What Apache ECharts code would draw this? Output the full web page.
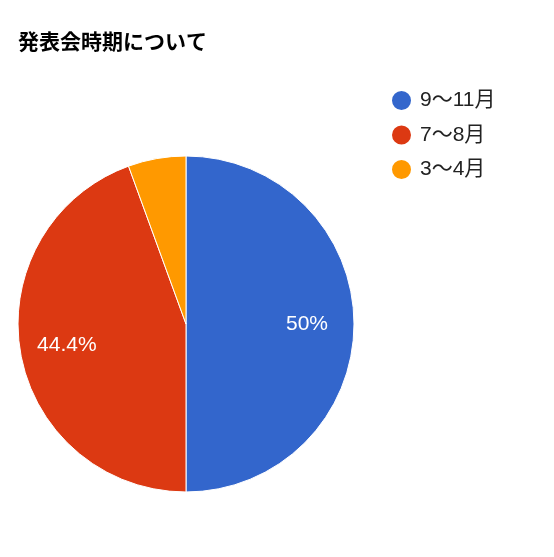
<!DOCTYPE html>
<html><head><meta charset="utf-8">
<script src="https://cdn.jsdelivr.net/npm/echarts@6/dist/echarts.min.js"></script>
<style>html,body{margin:0;padding:0;background:#fff}#c{width:554px;height:557px}</style>
</head><body><div id="c"></div>
<script>
const categories = ['9〜11月', '7〜8月', '3〜4月'];
const values = [9, 8, 1];
const colors = ['#3366cc', '#dc3912', '#ff9900'];
const titleText = '発表会時期について';

const data = categories.map((n, i) => ({ name: n, value: values[i], itemStyle: { color: colors[i] } }));
const chart = echarts.init(document.getElementById('c'), null, { renderer: 'canvas' });
const font = '"Liberation Sans", Arial, "Noto Sans CJK JP", sans-serif';
chart.setOption({
  animation: false,
  title: { text: titleText, left: 18, top: 30, padding: 0, textStyle: { fontFamily: '"Noto Sans CJK JP", sans-serif', fontSize: 21, lineHeight: 22, fontWeight: 'bold', color: '#000' } },
  legend: {
    orient: 'vertical', left: 390, top: 89, padding: 0, icon: 'circle', itemWidth: 21, itemHeight: 21, itemGap: 11.5,
    textStyle: { fontFamily: font, fontSize: 21, lineHeight: 21, color: '#222', padding: [0, 0, 0, 3] }, data: categories
  },
  series: [
    {
      type: 'pie', center: [186, 324], radius: [0, 168], startAngle: 90, clockwise: true,
      data: data, label: { show: false }, labelLine: { show: false },
      itemStyle: { borderColor: '#fff', borderWidth: 1 }, emphasis: { disabled: true }
    },
    {
      type: 'pie', center: [186, 324], radius: [68, 168], startAngle: 90, clockwise: true, silent: true,
      legendHoverLink: false,
      data: categories.map((n, i) => ({ name: n + ' ', value: values[i] })),
      itemStyle: { color: 'rgba(0,0,0,0)' },
      label: { show: true, position: 'inside', color: '#fff', fontFamily: font, fontSize: 21,
        formatter: p => p.percent >= 10 ? (Math.round(p.value / 18 * 1000) / 10) + '%' : '' },
      labelLine: { show: false }, emphasis: { disabled: true }
    }
  ]
});
</script></body></html>
